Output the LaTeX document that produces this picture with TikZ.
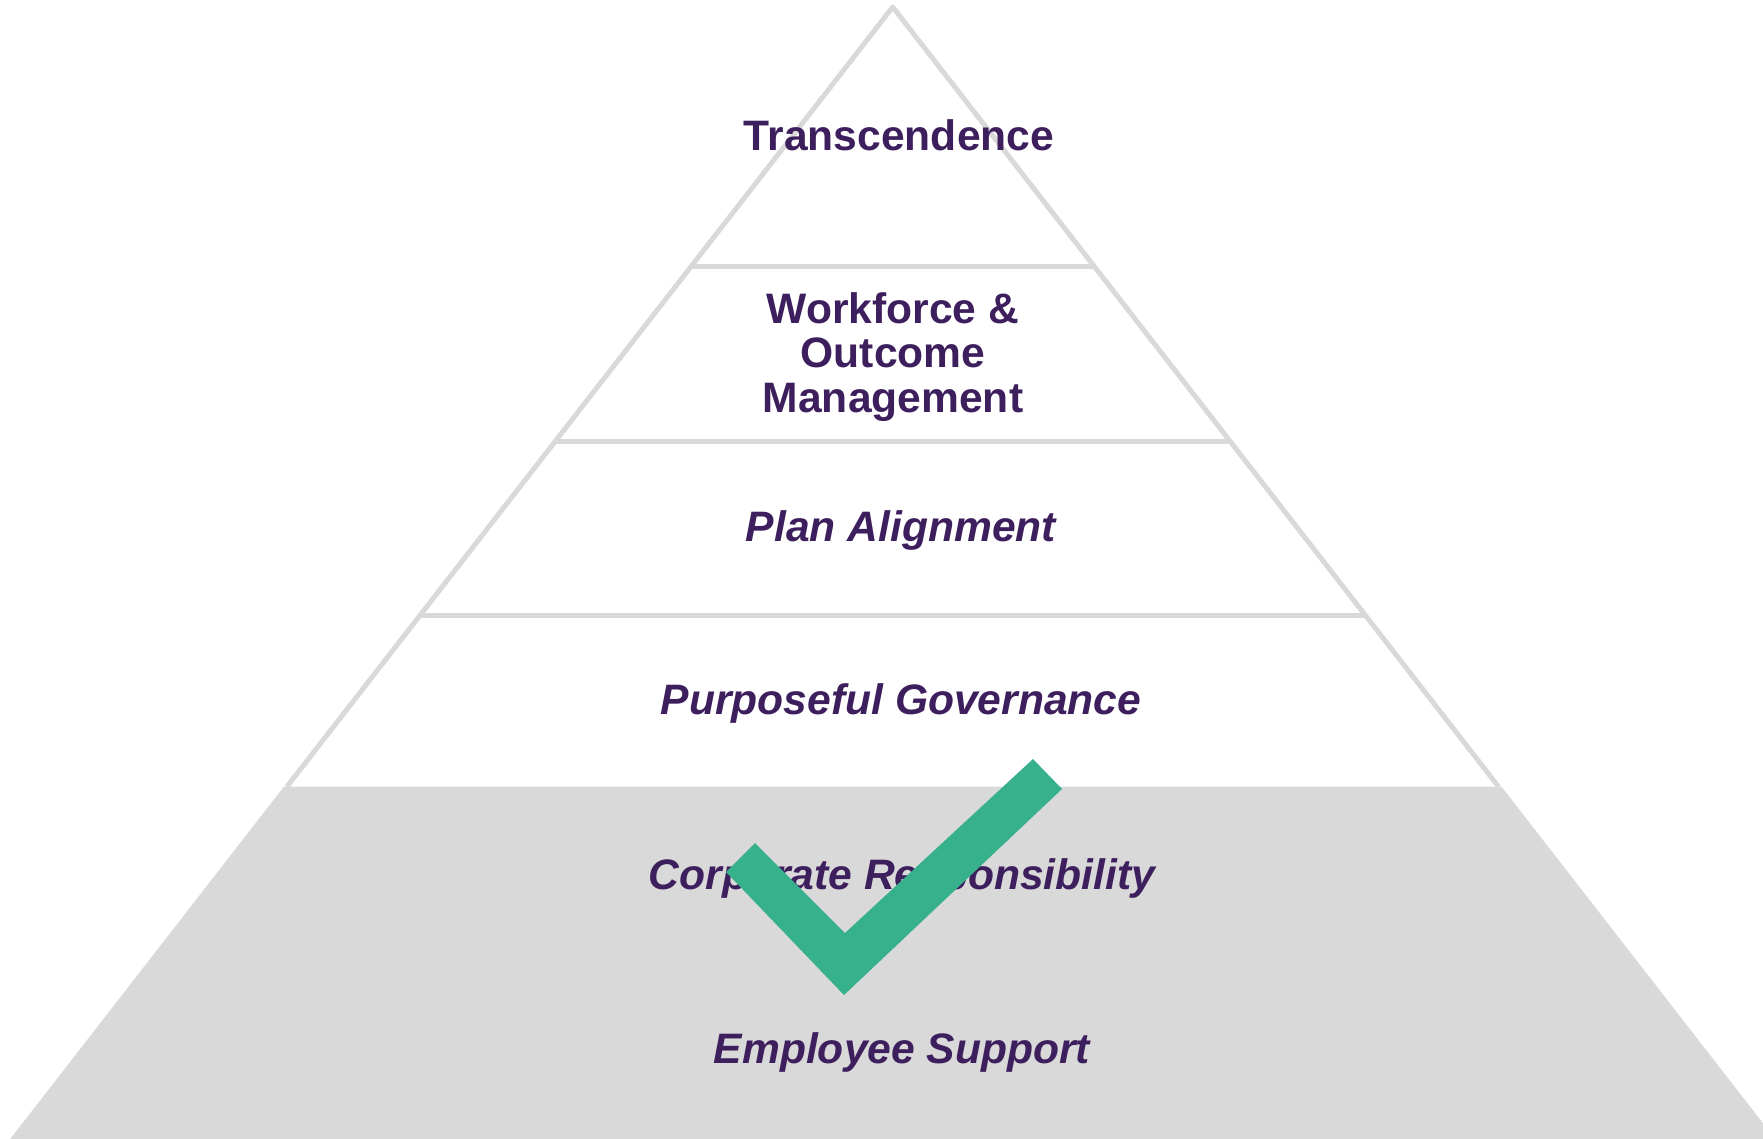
\documentclass[tikz,border=0pt]{standalone}
\usepackage{fontspec}
\setmainfont{Liberation Sans}
\definecolor{tierline}{HTML}{D9D9D9}
\definecolor{tierfill}{HTML}{D9D9D9}
\definecolor{labelpurple}{HTML}{3E1F5E}
\definecolor{checkgreen}{HTML}{37B08C}
\begin{document}
\begin{tikzpicture}[x=1pt,y=-1pt,
  outline/.style={draw=tierline, line width=5pt, line join=round},
  tierlabel/.style={font=\fontsize{42.6}{44.5}\selectfont\bfseries, text=labelpurple, anchor=base, inner sep=0pt},
  tierlabelit/.style={tierlabel, font=\fontsize{42.6}{44.5}\selectfont\bfseries\itshape}]
\useasboundingbox (0,0) rectangle (1763,1138);
\clip (0,0) rectangle (1763,1138);

% pyramid geometry: apex and side slope
\def\ax{892.7}
\def\ay{7}
\def\sl{0.777}
\coordinate (apex) at (\ax,\ay);
\foreach \n/\y in {s1/266.7, s2/441.7, s3/615.5, s4/786.7, s5/1180} {
  \coordinate (\n L) at ({\ax-\sl*(\y-\ay)},\y);
  \coordinate (\n R) at ({\ax+\sl*(\y-\ay)},\y);
}

% shaded base tier
\fill[tierfill] ([xshift=-3pt]s4L) -- ([xshift=3pt]s4R) -- ([xshift=3pt]s5R) -- ([xshift=-3pt]s5L) -- cycle;

% outline of the upper tiers
\draw[outline] (s4L) -- (apex) -- (s4R);
\draw[outline] (s1L) -- (s1R);
\draw[outline] (s2L) -- (s2R);
\draw[outline] (s3L) -- (s3R);

% tier labels
\node[tierlabel] (t1) at (899,150.7) {Transcendence};
\node[tierlabel] (t2a) at (893,323) {Workforce \&};
\node[tierlabel] (t2b) at (893,367.5) {Outcome};
\node[tierlabel] (t2c) at (893,412) {Management};
\node[tierlabelit] (t3) at (901,541) {Plan Alignment};
\node[tierlabelit] (t4) at (901,714.5) {Purposeful Governance};
\node[tierlabelit] (t5) at (902,889) {Corporate Responsibility};
\node[tierlabelit] (t6) at (902,1063) {Employee Support};

% check mark over the base tier
\fill[checkgreen] (726,872) -- (755,843) -- (845,933) -- (1033,759)
  -- (1062,789) -- (844,995) -- cycle;
\end{tikzpicture}
\end{document}
